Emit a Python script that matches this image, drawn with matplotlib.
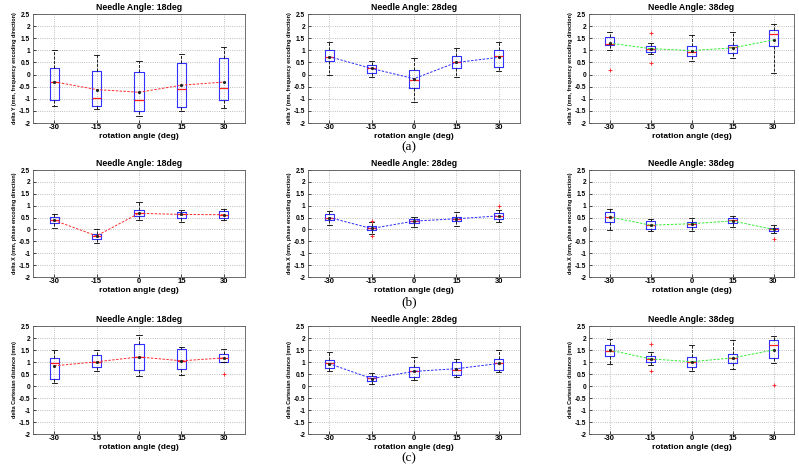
import matplotlib.pyplot as plt

# =====================================================
# DATA
# =====================================================

angles = [-30, -15, 0, 15, 30]
needle_titles = ["Needle Angle: 18deg", "Needle Angle: 28deg", "Needle Angle: 38deg"]
mean_colors = ["#ff2a2a", "#2a2aff", "#33ee33"]

row_ylabels = [
    "delta Y (mm, frequency encoding direction)",
    "delta X (mm, phase encoding direction)",
    "delta Cartesian distance (mm)",
]
row_captions = ["(a)", "(b)", "(c)"]

# delta Y, one inner list per needle angle (18, 28, 38)
dy_whislo = [[-1.31, -1.42, -1.72, -1.50, -1.40],
             [-0.03, -0.10, -1.14, -0.10, 0.15],
             [1.02, 0.84, 0.56, 0.67, 0.05]]
dy_q1 = [[-1.06, -1.28, -1.50, -1.32, -1.07],
         [0.55, 0.08, -0.57, 0.26, 0.30],
         [1.23, 0.92, 0.77, 0.88, 1.16]]
dy_med = [[-0.30, -0.96, -1.05, -0.59, -0.57],
          [0.74, 0.26, -0.24, 0.50, 0.77],
          [1.25, 1.07, 0.92, 1.12, 1.67]]
dy_q3 = [[0.26, 0.13, 0.09, 0.46, 0.67],
         [1.02, 0.38, 0.20, 0.78, 1.00],
         [1.57, 1.18, 1.16, 1.24, 1.85]]
dy_whishi = [[1.00, 0.81, 0.57, 0.85, 1.13],
             [1.36, 0.56, 0.70, 1.09, 1.36],
             [1.75, 1.32, 1.63, 1.75, 2.07]]
dy_mean = [[-0.30, -0.62, -0.73, -0.44, -0.31],
           [0.74, 0.25, -0.17, 0.50, 0.71],
           [1.30, 1.07, 0.99, 1.10, 1.43]]
dy_fliers = [[[], [], [], [], []],
             [[], [], [], [], []],
             [[0.19], [1.71, 0.46], [], [], []]]

# delta X
dx_whislo = [[0.08, -0.57, 0.40, 0.31, 0.38],
             [0.20, -0.18, 0.10, 0.15, 0.33],
             [-0.03, -0.07, -0.06, 0.10, -0.13]]
dx_q1 = [[0.27, -0.40, 0.57, 0.49, 0.49],
         [0.38, -0.03, 0.27, 0.36, 0.43],
         [0.32, 0.01, 0.10, 0.27, -0.08]]
dx_med = [[0.38, -0.27, 0.68, 0.63, 0.62],
          [0.50, 0.04, 0.35, 0.45, 0.57],
          [0.54, 0.18, 0.22, 0.38, 0.00]]
dx_q3 = [[0.54, -0.18, 0.82, 0.73, 0.77],
         [0.63, 0.14, 0.43, 0.54, 0.68],
         [0.74, 0.35, 0.33, 0.49, 0.06]]
dx_whishi = [[0.64, 0.00, 1.17, 0.80, 0.88],
             [0.78, 0.30, 0.54, 0.75, 0.82],
             [0.88, 0.45, 0.50, 0.57, 0.18]]
dx_mean = [[0.38, -0.27, 0.68, 0.63, 0.62],
           [0.50, 0.04, 0.35, 0.45, 0.57],
           [0.53, 0.18, 0.24, 0.36, 0.00]]
dx_fliers = [[[], [], [], [], []],
             [[], [0.34, -0.27], [], [], [0.99]],
             [[], [], [], [], [-0.40]]]

# delta Cartesian distance
dc_whislo = [[0.12, 0.62, 0.40, 0.45, 0.98],
             [0.62, 0.07, 0.24, 0.38, 0.59],
             [0.90, 0.89, 0.63, 0.70, 0.97]]
dc_q1 = [[0.31, 0.80, 0.68, 0.70, 1.01],
         [0.77, 0.19, 0.38, 0.45, 0.68],
         [1.27, 1.01, 0.78, 0.96, 1.17]]
dc_med = [[0.96, 1.01, 1.22, 1.04, 1.17],
          [0.96, 0.33, 0.63, 0.68, 0.94],
          [1.45, 1.13, 1.01, 1.17, 1.69]]
dc_q3 = [[1.17, 1.29, 1.73, 1.53, 1.32],
         [1.08, 0.40, 0.80, 1.01, 1.13],
         [1.69, 1.27, 1.20, 1.34, 1.90]]
dc_whishi = [[1.49, 1.48, 2.11, 1.64, 1.55],
             [1.43, 0.56, 1.20, 1.14, 1.48],
             [1.94, 1.41, 1.69, 1.90, 2.08]]
dc_mean = [[0.84, 1.01, 1.21, 1.05, 1.17],
           [0.93, 0.31, 0.61, 0.72, 0.94],
           [1.50, 1.13, 1.01, 1.17, 1.50]]
dc_fliers = [[[], [], [], [], [0.49]],
             [[], [], [], [], []],
             [[], [1.74, 0.61], [], [], [0.03]]]

rows = [
    (dy_whislo, dy_q1, dy_med, dy_q3, dy_whishi, dy_mean, dy_fliers),
    (dx_whislo, dx_q1, dx_med, dx_q3, dx_whishi, dx_mean, dx_fliers),
    (dc_whislo, dc_q1, dc_med, dc_q3, dc_whishi, dc_mean, dc_fliers),
]

# =====================================================
# FIGURE
# =====================================================

W, H = 799, 469
fig = plt.figure(figsize=(W / 100, H / 100), dpi=100)

FONT = "Liberation Sans"

col_x = [(33, 245), (308, 520), (589, 794)]
row_y = [(14, 123), (170, 277), (326, 434)]
caption_y = [147, 302, 458]


def px_axes(x0, x1, y0, y1):
    return fig.add_axes([x0 / W, 1 - y1 / H, (x1 - x0) / W, (y1 - y0) / H])


for r, (wlo, q1, med, q3, whi, mean, fl) in enumerate(rows):
    for c in range(3):
        x0, x1 = col_x[c]
        y0, y1 = row_y[r]
        ax = px_axes(x0, x1, y0, y1)

        stats = []
        for i in range(len(angles)):
            stats.append({
                "whislo": wlo[c][i], "q1": q1[c][i], "med": med[c][i],
                "q3": q3[c][i], "whishi": whi[c][i], "fliers": fl[c][i],
            })

        ax.bxp(
            stats, positions=angles, widths=3.2, showfliers=True,
            boxprops=dict(color="#3030ff", linewidth=0.8),
            medianprops=dict(color="#ff2020", linewidth=0.9),
            whiskerprops=dict(color="black", linewidth=0.6, linestyle="--"),
            capprops=dict(color="black", linewidth=0.6),
            capwidths=1.8,
            flierprops=dict(marker="+", markeredgecolor="#ff2020",
                            markersize=3, markeredgewidth=0.6),
            manage_ticks=False,
        )

        ax.plot(angles, mean[c], linestyle=(0, (2.5, 1.5)), color=mean_colors[c],
                linewidth=0.7, zorder=4)
        ax.plot(angles, mean[c], linestyle="none", marker=".",
                color="#222222", markersize=2.5, zorder=5)

        ax.set_xlim(-37.5, 37.5)
        ax.set_ylim(-2, 2.5)
        ax.set_xticks(angles)
        ax.set_xticklabels([str(a) for a in angles])
        ax.set_yticks([-2, -1.5, -1, -0.5, 0, 0.5, 1, 1.5, 2, 2.5])
        ax.set_yticklabels(["-2", "-1.5", "-1", "-0.5", "0", "0.5",
                            "1", "1.5", "2", "2.5"])
        ax.grid(True, linestyle=":", color="#aaaaaa", linewidth=0.6)
        ax.set_axisbelow(True)

        ax.tick_params(direction="in", length=2, width=0.5, pad=2,
                       labelsize=4.8)
        ax.tick_params(axis="x", labelsize=5.5, pad=1)
        for lab in ax.get_xticklabels() + ax.get_yticklabels():
            lab.set_fontfamily(FONT)
            lab.set_fontweight("bold")
        for sp in ax.spines.values():
            sp.set_color("#555555")
            sp.set_linewidth(0.6)

        ax.set_title(needle_titles[c], fontsize=6.3, fontfamily=FONT,
                     fontweight="bold", pad=3)
        ax.set_xlabel("rotation angle (deg)", fontsize=6, fontfamily=FONT,
                      fontweight="bold", labelpad=1)
        ax.set_ylabel(row_ylabels[r], fontsize=3.9, fontfamily=FONT,
                      fontweight="bold", labelpad=1.5)

    fig.text(409 / W, 1 - caption_y[r] / H, row_captions[r],
             ha="center", va="center", fontsize=9.5,
             fontfamily="Liberation Serif")

fig.savefig("out.png", dpi=100)
